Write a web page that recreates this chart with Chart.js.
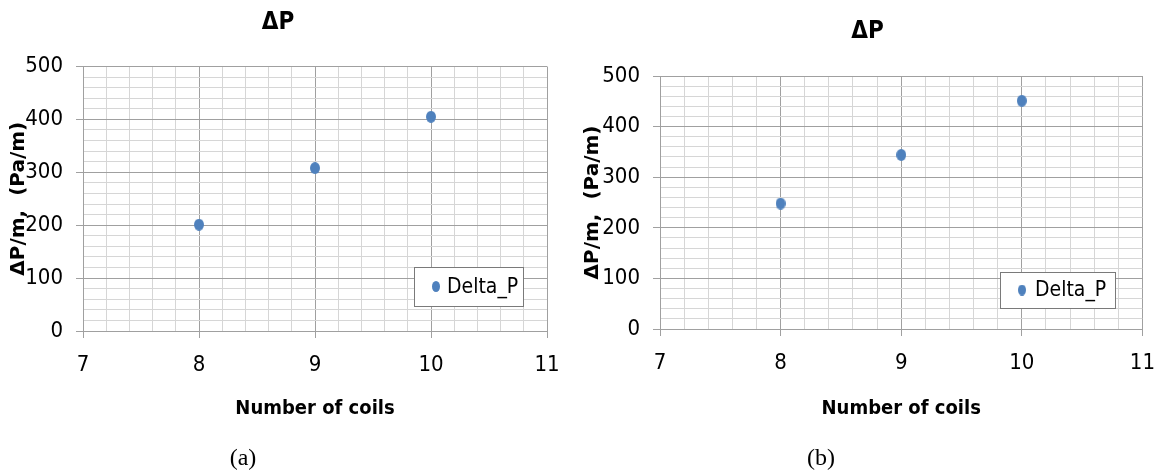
<!DOCTYPE html>
<html>
<head>
<meta charset="utf-8">
<script src="https://cdn.jsdelivr.net/npm/chart.js@4.4.0/dist/chart.umd.min.js"></script>
<style>
  html, body { margin: 0; padding: 0; background: #fff; }
  #wrap { position: relative; width: 1169px; height: 476px; overflow: hidden; }
  .panel { position: absolute; top: 0; height: 476px; }
  .caption {
    position: absolute; top: 444px; line-height: 28px;
    font: 24px 'Liberation Serif', 'Times New Roman', serif; color: #000;
    transform: translateX(-50%);
  }
</style>
</head>
<body>
<div id="wrap">
  <div class="panel" style="left:0;width:580px"><canvas id="chartA"></canvas></div>
  <div class="panel" style="left:580px;width:589px"><canvas id="chartB"></canvas></div>
  <div class="caption" style="left:243px">(a)</div>
  <div class="caption" style="left:821px">(b)</div>
</div>
<script>
// number of coils and pressure drop per metre for the two cases
const coils = [8, 9, 10];
const deltaPA = [201, 308, 405];
const deltaPB = [248, 344, 451];

// labelled ticks on each axis
const xTicks = [7, 8, 9, 10, 11];
const yTicks = [0, 100, 200, 300, 400, 500];

const narrow = "'Liberation Sans Narrow', 'DejaVu Sans Condensed', 'Roboto Condensed', Roboto, sans-serif";
const blue = '#4f81bd';
const majorGrid = '#a0a0a0';
const minorGrid = '#d6d6d6';

function makeDot(w, h) {
  const c = document.createElement('canvas');
  c.width = w;
  c.height = h;
  const g = c.getContext('2d');
  g.fillStyle = blue;
  g.beginPath();
  g.ellipse(w / 2, h / 2, w / 2, h / 2, 0, 0, Math.PI * 2);
  g.fill();
  return c;
}
const dot = makeDot(10, 12);
const legendDot = makeDot(8, 11);

const isWhole = (v, step) => Math.abs(v / step - Math.round(v / step)) < 1e-6;

// boxed legend sitting inside the lower right of the plot
const legendBox = {
  id: 'legendBox',
  afterDatasetsDraw(chart, args, opts) {
    const { ctx, chartArea } = chart;
    const x = Math.round(chartArea.right - opts.right - opts.width);
    const y = Math.round(chartArea.bottom - opts.bottom - opts.height);
    ctx.save();
    ctx.fillStyle = '#fff';
    ctx.fillRect(x, y, opts.width, opts.height);
    ctx.strokeStyle = '#7a7a7a';
    ctx.lineWidth = 1;
    ctx.strokeRect(x + 0.5, y + 0.5, opts.width, opts.height);
    ctx.drawImage(legendDot, x + opts.markerX - legendDot.width / 2, y + opts.height / 2 - legendDot.height / 2);
    ctx.fillStyle = '#000';
    ctx.font = '21px ' + narrow;
    ctx.textBaseline = 'middle';
    ctx.fillText(chart.data.datasets[0].label, x + opts.textX, y + opts.height / 2 + 1);
    ctx.restore();
  }
};

function buildChart(id, values, lay) {
  return new Chart(document.getElementById(id), {
    type: 'scatter',
    data: {
      datasets: [{
        label: 'Delta_P',
        data: coils.map((c, i) => ({ x: c, y: values[i] })),
        pointStyle: dot,
        pointRadius: 6,
        pointHoverRadius: 6,
        backgroundColor: blue,
        borderColor: blue
      }]
    },
    options: {
      responsive: true,
      maintainAspectRatio: false,
      animation: false,
      events: [],
      layout: { padding: { left: lay.left, right: lay.right, top: 0, bottom: lay.bottom } },
      plugins: {
        legend: { display: false },
        tooltip: { enabled: false },
        title: {
          display: true,
          text: 'ΔP',
          color: '#000',
          font: { family: narrow, size: 24, weight: 'bold' },
          padding: { top: lay.titleTop, bottom: lay.titleBottom }
        },
        legendBox: lay.legend
      },
      scales: {
        x: {
          type: 'linear',
          min: xTicks[0],
          max: xTicks[xTicks.length - 1],
          afterFit: s => { s.height = lay.xHeight; },
          ticks: {
            stepSize: 0.2,
            autoSkip: false,
            maxRotation: 0,
            padding: 14,
            color: '#000',
            font: { family: narrow, size: 22 },
            callback: v => (isWhole(v, 1) && xTicks.includes(Math.round(v))) ? String(Math.round(v)) : ''
          },
          grid: {
            color: c => isWhole(c.tick.value, 1) ? majorGrid : minorGrid,
            tickColor: c => isWhole(c.tick.value, 1) ? majorGrid : 'rgba(0,0,0,0)',
            tickLength: 7
          },
          border: { color: majorGrid },
          title: {
            display: true,
            text: 'Number of coils',
            color: '#000',
            font: { family: narrow, size: 20, weight: 'bold' },
            padding: { top: 5, bottom: 0 }
          }
        },
        y: {
          min: yTicks[0],
          max: yTicks[yTicks.length - 1],
          afterFit: s => { s.width = lay.yWidth; },
          ticks: {
            stepSize: 20,
            autoSkip: false,
            padding: 13,
            color: '#000',
            font: { family: narrow, size: 22 },
            callback: v => (isWhole(v, 100) && yTicks.includes(Math.round(v))) ? String(Math.round(v)) : ''
          },
          grid: {
            color: c => isWhole(c.tick.value, 100) ? majorGrid : minorGrid,
            tickColor: c => isWhole(c.tick.value, 100) ? majorGrid : 'rgba(0,0,0,0)',
            tickLength: 7
          },
          border: { color: majorGrid },
          title: {
            display: true,
            text: 'ΔP/m,  (Pa/m)',
            color: '#000',
            font: { family: "'DejaVu Sans', Verdana, sans-serif", size: 20, weight: 'bold' },
            padding: { top: lay.yTitleShift, bottom: 0 }
          }
        }
      }
    },
    plugins: [legendBox]
  });
}

buildChart('chartA', deltaPA, {
  left: 9, right: 33, bottom: 55,
  titleTop: 8.6, titleBottom: 29.1,
  xHeight: 90, yWidth: 74, yTitleShift: -2,
  legend: { width: 109, height: 39, right: 24, bottom: 25, markerX: 22, textX: 33 }
});

buildChart('chartB', deltaPB, {
  left: 2, right: 16, bottom: 55,
  titleTop: 17.6, titleBottom: 29.6,
  xHeight: 92, yWidth: 78, yTitleShift: -1,
  legend: { width: 115, height: 36, right: 27, bottom: 21, markerX: 22, textX: 35 }
});
</script>
</body>
</html>
